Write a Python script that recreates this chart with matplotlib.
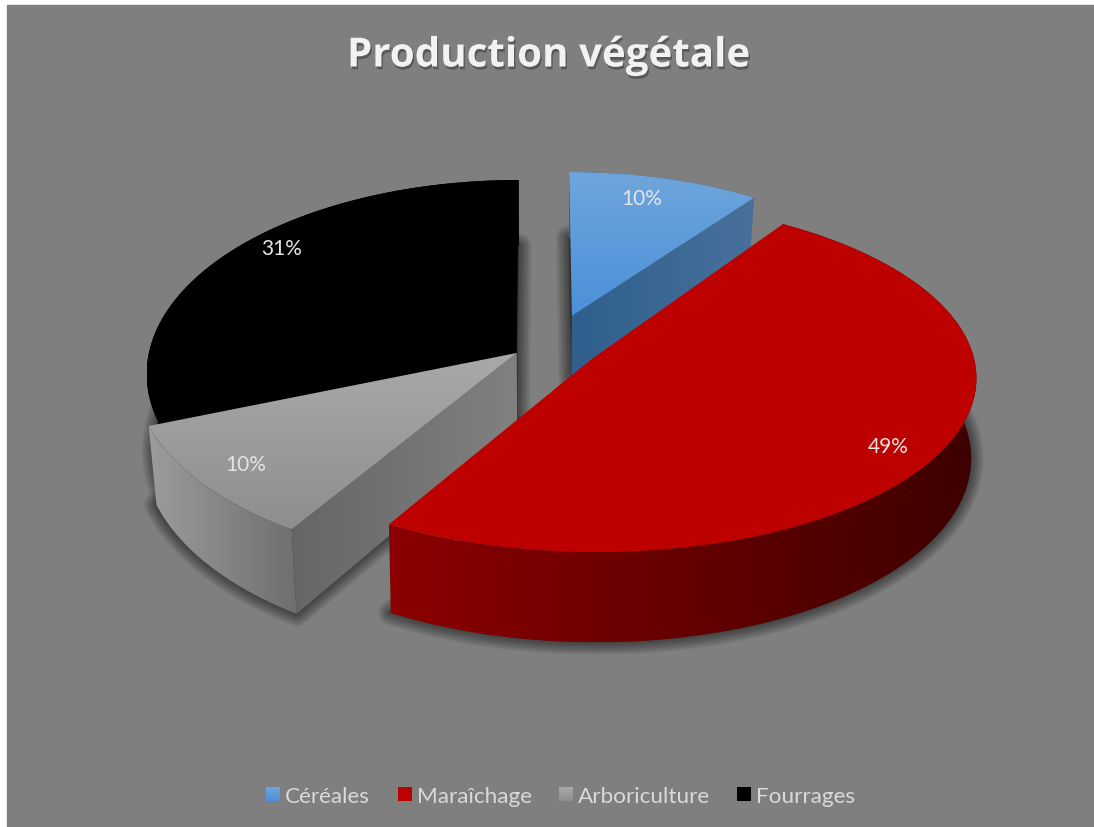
import numpy as np
import matplotlib
matplotlib.use("Agg")
import matplotlib.pyplot as plt
import matplotlib.patheffects as pe
from matplotlib.colors import LinearSegmentedColormap
from matplotlib.patches import Polygon, Rectangle

title = "Production végétale"
categories = ["Céréales", "Maraîchage", "Arboriculture", "Fourrages"]
values = [10, 49, 10, 31]

# perspective of the pie, in pixels of the picture
X0, Y0, A, B, Q = 538, 354, 190.8, 380, 0.103

# centre u, centre w, radius u, radius w, rotation, depth, bottom x scale
shapes = {
    "Céréales": (0.091, 0.198, 0.90, 0.853, 0, 75, 0.98),
    "Maraîchage": (0.140, -0.033, 1.004, 0.909, -2.6, 79, 0.988),
    "Arboriculture": (-0.056, 0, 1, 1, 0, 75, 0.98),
    "Fourrages": (-0.056, 0, 0.968, 1, 0, 75, 0.98),
}
top_colors = {
    "Céréales": ("#6fa5dc", "#4a90d9"),
    "Maraîchage": ("#bd0000", "#bd0000"),
    "Arboriculture": ("#a9a9a9", "#8e8e8e"),
    "Fourrages": ("#000000", "#000000"),
}
side_colors = {
    "Céréales": ("#2f5f8c", "#47719b"),
    "Maraîchage": ("#8c0000", "#3d0000"),
    "Arboriculture": ("#9c9c9c", "#6f6f6f"),
    "Fourrages": ("#000000", "#000000"),
}
label_pos = {
    "Céréales": (642, 199),
    "Maraîchage": (888, 447),
    "Arboriculture": (246, 465),
    "Fourrages": (282, 249),
}
legend_x = [266, 398, 559, 737]


def project(u, w, depth=None, scale=1.0):
    u, w = np.asarray(u, float), np.asarray(w, float)
    k = 1 / (1 + Q * w)
    x = B * u * k
    y = Y0 - A * w * k
    if depth is not None:
        return np.column_stack([X0 + scale * x, y + depth * k ** 1.3])
    return np.column_stack([X0 + x, y])


def arc(name, a0, a1, n=160):
    cu, cw, ru, rw, rot = shapes[name][:5]
    t = np.radians(np.linspace(a0, a1, n) + rot)
    return cu + ru * np.sin(t), cw + rw * np.cos(t)


def gradient_fill(ax, verts, c0, c1, zorder, horizontal=False):
    cmap = LinearSegmentedColormap.from_list("g", [c0, c1])
    g = np.linspace(0, 1, 256)
    g = g.reshape(1, -1) if horizontal else g.reshape(-1, 1)
    ext = (verts[:, 0].min(), verts[:, 0].max(), verts[:, 1].max(), verts[:, 1].min())
    im = ax.imshow(g, cmap=cmap, extent=ext, origin="upper", aspect="auto", zorder=zorder)
    im.set_clip_path(Polygon(verts, transform=ax.transData))


fig = plt.figure(figsize=(10.94, 8.28), dpi=100, facecolor="white")
ax = fig.add_axes([0, 0, 1, 1])
ax.axis("off")
ax.add_patch(Rectangle((7, 6), 1087, 822, color="#7f7f7f", zorder=0))

edges = np.cumsum([0] + values) / sum(values) * 360
spans = {c: (edges[i], edges[i + 1]) for i, c in enumerate(categories)}

# back to front
order = ["Fourrages", "Céréales", "Arboriculture", "Maraîchage"]
for n, name in enumerate(order):
    z = 2 + n * 5
    cu, cw = shapes[name][:2]
    depth, scale = shapes[name][5:]
    a0, a1 = spans[name]
    us, ws = arc(name, a0, a1)
    u_all = np.r_[cu, us, cu]
    w_all = np.r_[cw, ws, cw]
    top = project(u_all, w_all)
    bot = project(u_all, w_all, depth, scale)

    # soft shadow from the bottom face
    for lw in range(18, 0, -2):
        ax.add_patch(Polygon(bot, closed=True, fc="none", ec="black", lw=lw, alpha=0.06,
                             joinstyle="round", zorder=z))
    ax.add_patch(Polygon(bot, closed=True, fc="#333333", ec="none", zorder=z))

    c0, c1 = side_colors[name]
    outer = np.vstack([project(us, ws), project(us, ws, depth, scale)[::-1]])
    gradient_fill(ax, outer, c0, c1, z + 1, horizontal=True)

    # inner cut that faces the viewer
    if name in ("Céréales", "Arboriculture"):
        end = a1 if name == "Céréales" else a0
        eu, ew = arc(name, end, end, 2)
        ru = np.array([cu, eu[0]])
        rw = np.array([cw, ew[0]])
        pal = ("#2f5f8c", "#47719b") if name == "Céréales" else ("#666666", "#818181")
        cut = np.vstack([project(ru, rw), project(ru, rw, depth, scale)[::-1]])
        gradient_fill(ax, cut, pal[0], pal[1], z + 2, horizontal=True)

    t0, t1 = top_colors[name]
    gradient_fill(ax, top, t0, t1, z + 3)

for name, v in zip(categories, values):
    x, y = label_pos[name]
    ax.text(x, y, f"{v}%", color="#e4e4e4", fontsize=15, family="Lato",
            ha="center", va="center", zorder=40)

ax.text(548, 57, title, color="#f2f2f2", fontsize=29, family="Open Sans", fontweight="bold",
        ha="center", va="center", zorder=40,
        path_effects=[pe.withSimplePatchShadow(offset=(1, -2), shadow_rgbFace="black", alpha=0.3)])

for name, x in zip(categories, legend_x):
    box = np.array([[x, 788], [x + 14, 788], [x + 14, 802], [x, 802]], float)
    t0, t1 = top_colors[name]
    gradient_fill(ax, box, t0, t1, 40)
    ax.text(x + 19, 797, name, color="#d9d9d9", fontsize=16.2, family="Lato",
            ha="left", va="center", zorder=40)

ax.set_xlim(0, 1094)
ax.set_ylim(828, 0)
fig.savefig("out.png", dpi=100, facecolor="white")
